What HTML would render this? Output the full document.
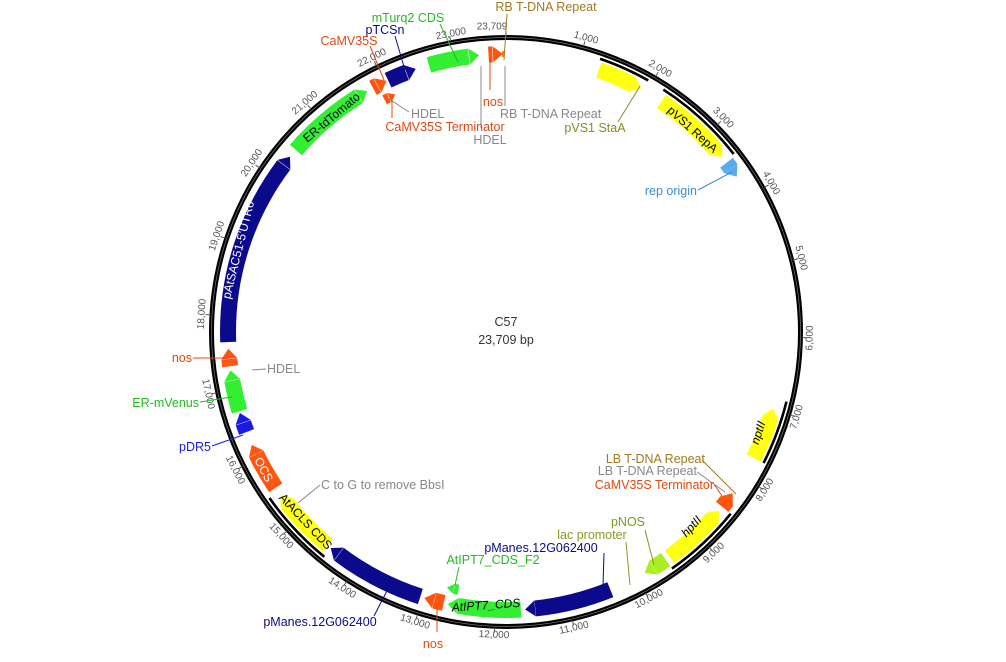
<!DOCTYPE html>
<html><head><meta charset="utf-8"><style>
html,body{margin:0;padding:0;background:#fff;}
svg{display:block;font-family:"Liberation Sans",sans-serif;}
.f{fill:none;stroke-width:16;}
.s{fill:none;stroke-width:10;}
.tk{font-size:10px;fill:#555;text-anchor:middle;dominant-baseline:middle;}
.lb{font-size:12.5px;}
.il{font-size:12px;text-anchor:middle;dominant-baseline:middle;}
</style></head><body>
<svg width="1006" height="662" viewBox="0 0 1006 662" xmlns="http://www.w3.org/2000/svg">
<!-- backbone -->
<circle cx="506" cy="332" r="294.5" fill="none" stroke="#000" stroke-width="5"/>
<circle cx="506" cy="332" r="294.5" fill="none" stroke="#777" stroke-width="0.7"/>
<g transform="rotate(-90 506 332)" fill="none" stroke="#000" stroke-width="2.6">
<circle cx="506" cy="332" r="289" pathLength="360" stroke-dasharray="10.5 360" stroke-dashoffset="-19"/>
<circle cx="506" cy="332" r="289" pathLength="360" stroke-dasharray="19 360" stroke-dashoffset="-33"/>
<circle cx="506" cy="332" r="289" pathLength="360" stroke-dasharray="13 360" stroke-dashoffset="-104"/>
<circle cx="506" cy="332" r="289" pathLength="360" stroke-dasharray="16 360" stroke-dashoffset="-129"/>
<circle cx="506" cy="332" r="289" pathLength="360" stroke-dasharray="16 360" stroke-dashoffset="-219"/>
</g>
<!-- ticks -->
<g stroke="#555" stroke-width="1">
<line x1="506" y1="36" x2="506" y2="31"/>
<line x1="506" y1="36" x2="506" y2="31" transform="rotate(15.18 506 332)"/>
<line x1="506" y1="36" x2="506" y2="31" transform="rotate(30.37 506 332)"/>
<line x1="506" y1="36" x2="506" y2="31" transform="rotate(45.55 506 332)"/>
<line x1="506" y1="36" x2="506" y2="31" transform="rotate(60.74 506 332)"/>
<line x1="506" y1="36" x2="506" y2="31" transform="rotate(75.92 506 332)"/>
<line x1="506" y1="36" x2="506" y2="31" transform="rotate(91.10 506 332)"/>
<line x1="506" y1="36" x2="506" y2="31" transform="rotate(106.29 506 332)"/>
<line x1="506" y1="36" x2="506" y2="31" transform="rotate(121.47 506 332)"/>
<line x1="506" y1="36" x2="506" y2="31" transform="rotate(136.66 506 332)"/>
<line x1="506" y1="36" x2="506" y2="31" transform="rotate(151.84 506 332)"/>
<line x1="506" y1="36" x2="506" y2="31" transform="rotate(167.02 506 332)"/>
<line x1="506" y1="36" x2="506" y2="31" transform="rotate(182.21 506 332)"/>
<line x1="506" y1="36" x2="506" y2="31" transform="rotate(197.39 506 332)"/>
<line x1="506" y1="36" x2="506" y2="31" transform="rotate(212.58 506 332)"/>
<line x1="506" y1="36" x2="506" y2="31" transform="rotate(227.76 506 332)"/>
<line x1="506" y1="36" x2="506" y2="31" transform="rotate(242.94 506 332)"/>
<line x1="506" y1="36" x2="506" y2="31" transform="rotate(258.13 506 332)"/>
<line x1="506" y1="36" x2="506" y2="31" transform="rotate(273.31 506 332)"/>
<line x1="506" y1="36" x2="506" y2="31" transform="rotate(288.49 506 332)"/>
<line x1="506" y1="36" x2="506" y2="31" transform="rotate(303.68 506 332)"/>
<line x1="506" y1="36" x2="506" y2="31" transform="rotate(318.86 506 332)"/>
<line x1="506" y1="36" x2="506" y2="31" transform="rotate(334.05 506 332)"/>
<line x1="506" y1="36" x2="506" y2="31" transform="rotate(349.23 506 332)"/>
</g>
<g class="tk">
<text x="492" y="27">23,709</text>
<text transform="translate(586,38) rotate(15.2)">1,000</text>
<text transform="translate(660,69) rotate(30.4)">2,000</text>
<text transform="translate(723,118) rotate(45.5)">3,000</text>
<text transform="translate(771,183) rotate(60.7)">4,000</text>
<text transform="translate(801,258) rotate(75.9)">5,000</text>
<text transform="translate(810,338) rotate(-88.9)">6,000</text>
<text transform="translate(797,417) rotate(-73.7)">7,000</text>
<text transform="translate(765,490) rotate(-58.5)">8,000</text>
<text transform="translate(714,553) rotate(-43.3)">9,000</text>
<text transform="translate(649,599) rotate(-28.2)">10,000</text>
<text transform="translate(574,628) rotate(-13)">11,000</text>
<text transform="translate(494,635) rotate(2.2)">12,000</text>
<text transform="translate(415,622) rotate(17.4)">13,000</text>
<text transform="translate(342,588) rotate(32.6)">14,000</text>
<text transform="translate(281,536) rotate(47.8)">15,000</text>
<text transform="translate(235,470) rotate(62.9)">16,000</text>
<text transform="translate(208,394) rotate(78.1)">17,000</text>
<text transform="translate(202,314) rotate(-86.7)">18,000</text>
<text transform="translate(217,236) rotate(-71.5)">19,000</text>
<text transform="translate(252,163) rotate(-56.3)">20,000</text>
<text transform="translate(305,103) rotate(-41.1)">21,000</text>
<text transform="translate(372,58) rotate(-26)">22,000</text>
<text transform="translate(451,34) rotate(-10.8)">23,000</text>
</g>
<!-- feature bodies -->
<g transform="rotate(-90 506 332)">
<circle class="f" cx="506" cy="332" r="278" pathLength="360" stroke="#33ee33" stroke-dasharray="8.4 360" stroke-dashoffset="-344"/>
<circle class="f" cx="506" cy="332" r="278" pathLength="360" stroke="#ff5511" stroke-dasharray="0.8 360" stroke-dashoffset="-356.5"/>
<circle cx="506" cy="332" r="278" fill="none" stroke-width="6" pathLength="360" stroke="#ff7711" stroke-dasharray="0.5 360" stroke-dashoffset="-359.3"/>
<circle class="f" cx="506" cy="332" r="278" pathLength="360" stroke="#0c0a8c" stroke-dasharray="4 360" stroke-dashoffset="-335"/>
<circle class="f" cx="506" cy="332" r="278" pathLength="360" stroke="#ff5511" stroke-dasharray="1 360" stroke-dashoffset="-331.5"/>
<circle class="s" cx="506" cy="332" r="262" pathLength="360" stroke="#ff5511" stroke-dasharray="1 360" stroke-dashoffset="-332.5"/>
<circle class="f" cx="506" cy="332" r="278" pathLength="360" stroke="#33ee33" stroke-dasharray="17 360" stroke-dashoffset="-311"/>
<circle class="f" cx="506" cy="332" r="278" pathLength="360" stroke="#0c0a8c" stroke-dasharray="39 360" stroke-dashoffset="-268"/>
<circle class="f" cx="506" cy="332" r="278" pathLength="360" stroke="#ff5511" stroke-dasharray="1.5 360" stroke-dashoffset="-263"/>
<circle class="f" cx="506" cy="332" r="278" pathLength="360" stroke="#33ee33" stroke-dasharray="6.5 360" stroke-dashoffset="-253.5"/>
<circle class="f" cx="506" cy="332" r="278" pathLength="360" stroke="#1a1ae6" stroke-dasharray="2 360" stroke-dashoffset="-249"/>
<circle class="f" cx="506" cy="332" r="278" pathLength="360" stroke="#ff5511" stroke-dasharray="8 360" stroke-dashoffset="-236"/>
<circle class="f" cx="506" cy="332" r="278" pathLength="360" stroke="#ffff11" stroke-dasharray="12 360" stroke-dashoffset="-220"/>
<circle class="f" cx="506" cy="332" r="278" pathLength="360" stroke="#0c0a8c" stroke-dasharray="19 360" stroke-dashoffset="-198"/>
<circle class="f" cx="506" cy="332" r="278" pathLength="360" stroke="#ff5511" stroke-dasharray="2 360" stroke-dashoffset="-193"/>
<circle class="f" cx="506" cy="332" r="278" pathLength="360" stroke="#33ee33" stroke-dasharray="13 360" stroke-dashoffset="-177"/>
<circle class="s" cx="506" cy="332" r="262" pathLength="360" stroke="#33ee33" stroke-dasharray="1 360" stroke-dashoffset="-190.5"/>
<circle class="f" cx="506" cy="332" r="278" pathLength="360" stroke="#0c0a8c" stroke-dasharray="16 360" stroke-dashoffset="-158"/>
<circle class="f" cx="506" cy="332" r="278" pathLength="360" stroke="#aaee22" stroke-dasharray="3 360" stroke-dashoffset="-145"/>
<circle class="f" cx="506" cy="332" r="278" pathLength="360" stroke="#ffff11" stroke-dasharray="12 360" stroke-dashoffset="-132"/>
<circle class="f" cx="506" cy="332" r="278" pathLength="360" stroke="#ff5511" stroke-dasharray="1.5 360" stroke-dashoffset="-127.5"/>
<circle class="f" cx="506" cy="332" r="278" pathLength="360" stroke="#ffff11" stroke-dasharray="9 360" stroke-dashoffset="-108"/>
<circle class="f" cx="506" cy="332" r="278" pathLength="360" stroke="#5aaaf0" stroke-dasharray="1.5 360" stroke-dashoffset="-52.5"/>
<circle class="f" cx="506" cy="332" r="278" pathLength="360" stroke="#ffff11" stroke-dasharray="15 360" stroke-dashoffset="-34"/>
<circle class="f" cx="506" cy="332" r="278" pathLength="360" stroke="#ffff11" stroke-dasharray="7.5 360" stroke-dashoffset="-19.5"/>
</g>
<!-- arrowheads -->
<polygon points="506,46 516,54 506,62" fill="#33ee33" transform="rotate(352.4 506 332)"/>
<polygon points="506,46 516,54 506,62" fill="#ff5511" transform="rotate(357.3 506 332)"/>
<polygon points="506,46 516,54 506,62" fill="#0c0a8c" transform="rotate(339 506 332)"/>
<polygon points="506,46 516,54 506,62" fill="#ff5511" transform="rotate(332.5 506 332)"/>
<polygon points="506,65 513,70 506,75" fill="#ff5511" transform="rotate(333.5 506 332)"/>
<polygon points="506,46 516,54 506,62" fill="#33ee33" transform="rotate(328 506 332)"/>
<polygon points="506,46 516,54 506,62" fill="#0c0a8c" transform="rotate(307 506 332)"/>
<polygon points="506,46 516,54 506,62" fill="#ff5511" transform="rotate(264.5 506 332)"/>
<polygon points="506,46 516,54 506,62" fill="#33ee33" transform="rotate(260 506 332)"/>
<polygon points="506,46 516,54 506,62" fill="#1a1ae6" transform="rotate(251 506 332)"/>
<polygon points="506,46 516,54 506,62" fill="#ff5511" transform="rotate(244 506 332)"/>
<polygon points="506,46 516,54 506,62" fill="#ffff11" transform="rotate(232 506 332)"/>
<polygon points="506,46 516,54 506,62" fill="#0c0a8c" transform="rotate(217 506 332)"/>
<polygon points="506,46 516,54 506,62" fill="#ff5511" transform="rotate(195 506 332)"/>
<polygon points="506,46 516,54 506,62" fill="#33ee33" transform="rotate(190 506 332)"/>
<polygon points="506,65 513,70 506,75" fill="#33ee33" transform="rotate(191.5 506 332)"/>
<polygon points="506,46 516,54 506,62" fill="#0c0a8c" transform="rotate(174 506 332)"/>
<polygon points="506,46 516,54 506,62" fill="#aaee22" transform="rotate(148 506 332)"/>
<polygon points="506,46 496,54 506,62" fill="#ffff11" transform="rotate(132 506 332)"/>
<polygon points="506,46 496,54 506,62" fill="#ff5511" transform="rotate(127.5 506 332)"/>
<polygon points="506,46 496,54 506,62" fill="#ffff11" transform="rotate(108 506 332)"/>
<polygon points="506,46 516,54 506,62" fill="#5aaaf0" transform="rotate(54 506 332)"/>
<polygon points="506,46 516,54 506,62" fill="#ffff11" transform="rotate(49 506 332)"/>
<polygon points="506,46 516,54 506,62" fill="#ffff11" transform="rotate(27 506 332)"/>
<!-- inner labels -->
<text class="il" transform="translate(332,118) rotate(-40)" fill="#000">ER-tdTomato</text>
<text class="il" transform="translate(239,250) rotate(-76)" fill="#fff">pAtSAC51-5'UTR6</text>
<text class="il" transform="translate(263,470) rotate(62)" fill="#fff">OCS</text>
<text class="il" transform="translate(305,522) rotate(47)" fill="#000">AtACLS CDS</text>
<text class="il" transform="translate(486,606) rotate(-4)" fill="#000" font-style="italic">AtIPT7_CDS</text>
<text class="il" transform="translate(692,527) rotate(-48)" fill="#000" font-style="italic">hptII</text>
<text class="il" transform="translate(759,433) rotate(-72)" fill="#000" font-style="italic">nptII</text>
<text class="il" transform="translate(692,130) rotate(42)" fill="#000">pVS1 RepA</text>
<!-- center -->
<text x="506" y="326" font-size="12.5" fill="#333" text-anchor="middle">C57</text>
<text x="506" y="344" font-size="12.5" fill="#333" text-anchor="middle">23,709 bp</text>
<!-- leader lines -->
<g fill="none" stroke-width="1">
<polyline points="507,14 504,60" stroke="#a07a20"/>
<polyline points="440,24 458,62" stroke="#22bb22"/>
<polyline points="395,36 405,70" stroke="#0c0a8c"/>
<polyline points="370,46 384,80" stroke="#e04a10"/>
<polyline points="409,112 386,97" stroke="#888"/>
<polyline points="392,96 392,118" stroke="#e04a10"/>
<polyline points="481,66 481,128" stroke="#888"/>
<polyline points="490,58 490,90" stroke="#e04a10"/>
<polyline points="505,66 505,106" stroke="#888"/>
<polyline points="618,122 640,86" stroke="#8a8a20"/>
<polyline points="698,190 732,172" stroke="#3b8fd0"/>
<polyline points="193,358 228,358" stroke="#e04a10"/>
<polyline points="266,369 252,370" stroke="#888"/>
<polyline points="200,402 232,397" stroke="#22bb22"/>
<polyline points="212,446 243,435" stroke="#1a1ae6"/>
<polyline points="320,485 298,503" stroke="#888"/>
<polyline points="702,460 736,494" stroke="#a07a20"/>
<polyline points="697,472 725,492" stroke="#888"/>
<polyline points="714,484 722,496" stroke="#e04a10"/>
<polyline points="645,530 654,565" stroke="#7a9a20"/>
<polyline points="626,542 630,585" stroke="#8a9a20"/>
<polyline points="604,553 603,586" stroke="#0c0a8c"/>
<polyline points="459,567 455,585" stroke="#22bb22"/>
<polyline points="374,616 390,585" stroke="#0c0a8c"/>
<polyline points="437,603 437,632" stroke="#e04a10"/>
</g>
<!-- outer labels -->
<g class="lb">
<text x="546" y="11" fill="#a07a20" text-anchor="middle">RB T-DNA Repeat</text>
<text x="408" y="22" fill="#22bb22" text-anchor="middle">mTurq2 CDS</text>
<text x="385" y="34" fill="#0c0a8c" text-anchor="middle">pTCSn</text>
<text x="349" y="45" fill="#e04a10" text-anchor="middle">CaMV35S</text>
<text x="411" y="118" fill="#888">HDEL</text>
<text x="445" y="131" fill="#e04a10" text-anchor="middle">CaMV35S Terminator</text>
<text x="490" y="144" fill="#888" text-anchor="middle">HDEL</text>
<text x="493" y="106" fill="#e04a10" text-anchor="middle">nos</text>
<text x="500" y="118" fill="#888">RB T-DNA Repeat</text>
<text x="595" y="132" fill="#8a8a20" text-anchor="middle">pVS1 StaA</text>
<text x="697" y="195" fill="#3b8fd0" text-anchor="end">rep origin</text>
<text x="192" y="362" fill="#e04a10" text-anchor="end">nos</text>
<text x="267" y="373" fill="#888">HDEL</text>
<text x="199" y="407" fill="#22bb22" text-anchor="end">ER-mVenus</text>
<text x="211" y="451" fill="#1a1ae6" text-anchor="end">pDR5</text>
<text x="321" y="489" fill="#888">C to G to remove BbsI</text>
<text x="705" y="463" fill="#a07a20" text-anchor="end">LB T-DNA Repeat</text>
<text x="697" y="475" fill="#888" text-anchor="end">LB T-DNA Repeat</text>
<text x="714" y="489" fill="#e04a10" text-anchor="end">CaMV35S Terminator</text>
<text x="628" y="526" fill="#7a9a20" text-anchor="middle">pNOS</text>
<text x="592" y="539" fill="#8a9a20" text-anchor="middle">lac promoter</text>
<text x="541" y="552" fill="#0c0a8c" text-anchor="middle">pManes.12G062400</text>
<text x="493" y="564" fill="#22bb22" text-anchor="middle">AtIPT7_CDS_F2</text>
<text x="320" y="626" fill="#0c0a8c" text-anchor="middle">pManes.12G062400</text>
<text x="433" y="648" fill="#e04a10" text-anchor="middle">nos</text>
</g>
</svg>
</body></html>
